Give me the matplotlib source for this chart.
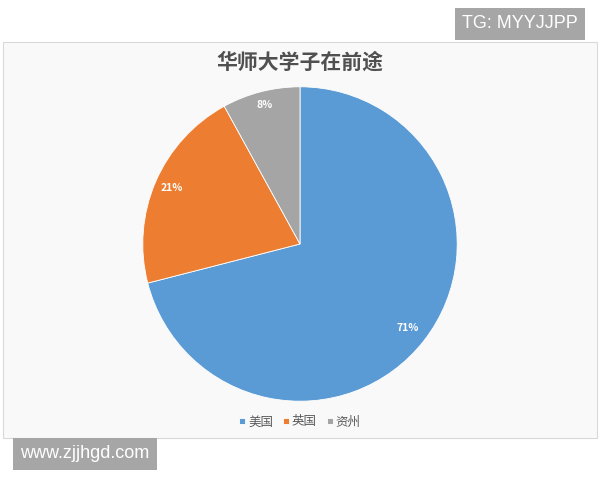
import numpy as np
import matplotlib.pyplot as plt
from matplotlib.patches import Rectangle

plt.rcParams['font.family'] = ['Noto Sans CJK SC', 'DejaVu Sans']

# data
labels = ['美国', '英国', '资州']
shares = [71, 21, 8]
colors = ['#5B9BD5', '#ED7D31', '#A5A5A5']
label_dist = [0.87, 0.89, 0.91]  # where Excel put the % labels
title = '华师大学子在前途'

fig = plt.figure(figsize=(6, 4.8), dpi=100)
fig.patch.set_facecolor('white')

# chart area frame (behind the pie)
fig.patches.append(Rectangle((3 / 600, 1 - 438 / 480), 594 / 600, 396 / 480,
                             transform=fig.transFigure, facecolor='#F9F9F9',
                             edgecolor='#D9D9D9', linewidth=0.8, zorder=-5))

# pie: center (300,244), radius ~158 px
ax = fig.add_axes([(300 - 158) / 600, 1 - (244 + 158) / 480, 316 / 600, 316 / 480])
ax.set_zorder(2)
wedges, _ = ax.pie(shares, colors=colors, startangle=90, counterclock=False,
                   wedgeprops=dict(edgecolor='white', linewidth=0.6))
ax.set_xlim(-1.005, 1.005)
ax.set_ylim(-1.005, 1.005)
ax.set_aspect('equal')

for w, s, d in zip(wedges, shares, label_dist):
    mid = np.deg2rad((w.theta1 + w.theta2) / 2)
    ax.text(d * np.cos(mid), d * np.sin(mid), f'{s}%', ha='center', va='center',
            color='white', fontsize=7.5, fontweight='bold')

fig.text(0.5, 1 - 62 / 480, title, ha='center', va='center', fontsize=15,
         fontweight='bold', color='#505050')

leg = fig.legend(wedges, labels, loc='center', bbox_to_anchor=(0.5, 1 - 422 / 480),
                 ncol=3, frameon=False, fontsize=9, handlelength=0.45, handleheight=0.45,
                 handletextpad=0.25, columnspacing=0.8, labelcolor='#595959')

# watermarks
fig.text(520 / 600, 1 - 24 / 480, 'TG: MYYJJPP', ha='center', va='center', fontsize=13,
         color='white', family='Liberation Sans',
         bbox=dict(boxstyle='square,pad=0.4', facecolor='#A6A6A6', edgecolor='none'))
fig.text(85 / 600, 1 - 454 / 480, 'www.zjjhgd.com', ha='center', va='center', fontsize=13,
         color='white', family='Liberation Sans',
         bbox=dict(boxstyle='square,pad=0.4', facecolor='#A6A6A6', edgecolor='none'))

fig.savefig('out.png', dpi=100)
